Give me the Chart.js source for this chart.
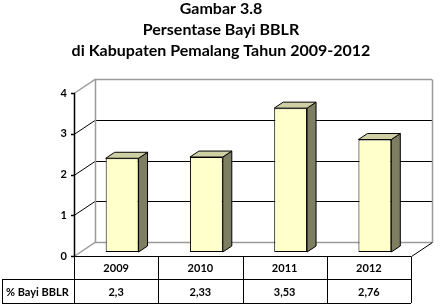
<!DOCTYPE html>
<html><head><meta charset="utf-8">
<script src="https://cdn.jsdelivr.net/npm/chart.js@4/dist/chart.umd.min.js"></script>
<style>html,body{margin:0;padding:0;background:#fff;} #wrap{width:442px;height:305px;position:relative;}</style>
</head><body><div id="wrap"><canvas id="c"></canvas></div>
<script>
const titleLines = ['Gambar 3.8', 'Persentase Bayi BBLR', 'di Kabupaten Pemalang Tahun 2009-2012'];
const categories = ['2009', '2010', '2011', '2012'];
const seriesName = '% Bayi BBLR';
const values = [2.3, 2.33, 3.53, 2.76];
const valueLabels = ['2,3', '2,33', '3,53', '2,76'];
const yTicks = [0, 1, 2, 3, 4];

const FONT = 'Lato, "Liberation Sans", sans-serif';
const WALL_DX = 21, WALL_DY = -14;   // depth of the 3D box
const BAR_DX = 6, BAR_DY = -4;       // bar plane inside the box
const SIDE_DX = 9, SIDE_DY = -6;     // bar thickness
const TABLE_LEFT = 2, ROW1 = 279, ROW2 = 303;

const threeD = {
  id: 'threeD',
  beforeDatasetsDraw(chart) {
    const ctx = chart.ctx, y = chart.scales.y, a = chart.chartArea;
    ctx.save();
    ctx.lineWidth = 1;
    yTicks.forEach((v, i) => {
      const py = Math.round(y.getPixelForValue(v)) + 0.5;
      const edge = (i === 0 || i === yTicks.length - 1);
      ctx.strokeStyle = edge ? '#9a9a9a' : '#000';
      ctx.lineWidth = edge ? 1.5 : 1;
      ctx.beginPath();
      ctx.moveTo(a.left, py);
      ctx.lineTo(a.left + WALL_DX, py + WALL_DY);
      ctx.lineTo(a.right + WALL_DX, py + WALL_DY);
      ctx.stroke();
    });
    const t = Math.round(y.getPixelForValue(yTicks[yTicks.length - 1])) + 0.5 + WALL_DY;
    const b = Math.round(y.getPixelForValue(yTicks[0])) + 0.5 + WALL_DY;
    ctx.strokeStyle = '#9a9a9a'; ctx.lineWidth = 1.5;
    ctx.beginPath();
    ctx.moveTo(a.left + WALL_DX + 0.5, t); ctx.lineTo(a.left + WALL_DX + 0.5, b);
    ctx.moveTo(a.right + WALL_DX + 0.5, t); ctx.lineTo(a.right + WALL_DX + 0.5, b);
    ctx.stroke();
    const fy = Math.round(y.getPixelForValue(0)) + 0.5;
    ctx.strokeStyle = '#000'; ctx.lineWidth = 1;
    ctx.beginPath();
    ctx.moveTo(a.right + 0.5, fy); ctx.lineTo(a.right + WALL_DX + 0.5, fy + WALL_DY);
    ctx.stroke();
    // front y axis line and tick marks
    ctx.strokeStyle = '#000'; ctx.lineWidth = 1.5;
    ctx.beginPath();
    ctx.moveTo(a.left + 0.5, y.getPixelForValue(yTicks[yTicks.length - 1]));
    ctx.lineTo(a.left + 0.5, y.getPixelForValue(0) + 1);
    yTicks.forEach(v => {
      const py = Math.round(y.getPixelForValue(v)) + 0.5;
      ctx.moveTo(a.left - 3, py); ctx.lineTo(a.left + 0.5, py);
    });
    ctx.stroke();
    ctx.restore();
    ctx.save();
    ctx.translate(BAR_DX, BAR_DY);
  },
  afterDatasetsDraw(chart) {
    const ctx = chart.ctx;
    const meta = chart.getDatasetMeta(0);
    meta.data.forEach(bar => {
      const { x, y, width, base } = bar.getProps(['x', 'y', 'width', 'base'], true);
      const l = x - width / 2, r = x + width / 2;
      ctx.lineWidth = 1; ctx.strokeStyle = '#000';
      ctx.fillStyle = '#7e7e62';
      ctx.beginPath();
      ctx.moveTo(r, y); ctx.lineTo(r + SIDE_DX, y + SIDE_DY);
      ctx.lineTo(r + SIDE_DX, base + SIDE_DY); ctx.lineTo(r, base); ctx.closePath();
      ctx.fill(); ctx.stroke();
      ctx.fillStyle = '#cfcfa6';
      ctx.beginPath();
      ctx.moveTo(l, y); ctx.lineTo(l + SIDE_DX, y + SIDE_DY);
      ctx.lineTo(r + SIDE_DX, y + SIDE_DY); ctx.lineTo(r, y); ctx.closePath();
      ctx.fill(); ctx.stroke();
    });
    ctx.restore();
  },
  afterDraw(chart) {
    const ctx = chart.ctx, xs = chart.scales.x, a = chart.chartArea;
    const top = Math.round(chart.scales.y.getPixelForValue(0)) + 0.5;
    ctx.save();
    ctx.strokeStyle = '#000'; ctx.lineWidth = 1;
    ctx.beginPath();
    ctx.moveTo(a.left, top); ctx.lineTo(a.right, top);
    ctx.moveTo(TABLE_LEFT, ROW1 + 0.5); ctx.lineTo(a.right, ROW1 + 0.5);
    ctx.moveTo(TABLE_LEFT, ROW2 + 0.5); ctx.lineTo(a.right, ROW2 + 0.5);
    ctx.moveTo(TABLE_LEFT + 0.5, ROW1); ctx.lineTo(TABLE_LEFT + 0.5, ROW2);
    const half = (xs.getPixelForValue(1) - xs.getPixelForValue(0)) / 2;
    const edges = categories.map((c, i) => xs.getPixelForValue(i) - half);
    edges.push(xs.getPixelForValue(categories.length - 1) + half);
    edges.forEach(ex => { const px = Math.round(ex) + 0.5; ctx.moveTo(px, top); ctx.lineTo(px, ROW2); });
    ctx.stroke();
    ctx.fillStyle = '#000';
    ctx.font = 'bold 11px ' + FONT;
    ctx.textBaseline = 'middle'; ctx.textAlign = 'center';
    categories.forEach((c, i) => {
      const cx = xs.getPixelForValue(i);
      ctx.fillText(c, cx, (top + ROW1) / 2 + 1);
      ctx.fillText(valueLabels[i], cx, (ROW1 + ROW2) / 2 + 1);
    });
    ctx.textAlign = 'left';
    ctx.fillText(seriesName, TABLE_LEFT + 4, (ROW1 + ROW2) / 2 + 1);
    ctx.restore();
  }
};

new Chart(document.getElementById('c'), {
  type: 'bar',
  data: {
    labels: categories,
    datasets: [{
      label: seriesName,
      data: values,
      backgroundColor: '#ffffcc',
      borderColor: '#000',
      borderWidth: 1,
      borderSkipped: false,
      barPercentage: 0.39,
      categoryPercentage: 1
    }]
  },
  options: {
    responsive: true,
    maintainAspectRatio: false,
    animation: false,
    layout: { padding: { left: 0, right: 0, top: 0, bottom: 49 } },
    plugins: {
      legend: { display: false },
      tooltip: { enabled: false },
      title: {
        display: true,
        text: titleLines,
        color: '#000',
        font: { family: FONT, size: 16, weight: 'bold', lineHeight: 1.3125 },
        padding: { top: -2, bottom: 32 }
      }
    },
    scales: {
      x: { display: false, offset: true },
      y: {
        min: 0, max: 4,
        afterFit(s) { s.width = 74; },
        grid: { display: false, drawTicks: false },
        border: { display: false },
        ticks: {
          stepSize: 1, padding: 7, color: '#000',
          font: { family: FONT, size: 11, weight: 'bold' }
        }
      },
      yRight: {
        position: 'right',
        min: 0, max: 4,
        afterFit(s) { s.width = 31; },
        grid: { display: false, drawTicks: false },
        border: { display: false },
        ticks: { display: false }
      }
    }
  },
  plugins: [threeD]
});
</script>
</body></html>
